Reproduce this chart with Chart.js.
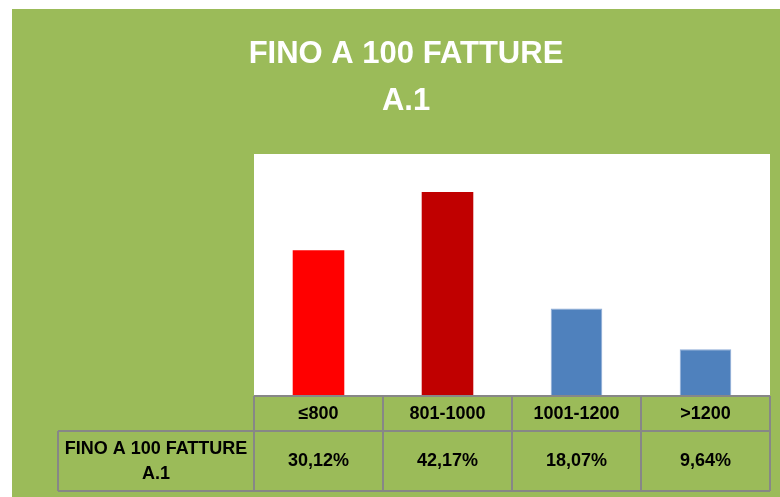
<!DOCTYPE html>
<html>
<head>
<meta charset="utf-8">
<script src="https://cdn.jsdelivr.net/npm/chart.js@4/dist/chart.umd.min.js"></script>
<style>
  html, body { margin: 0; padding: 0; background: #fff; }
  #wrap { width: 780px; height: 497px; }
</style>
</head>
<body>
<div id="wrap"><canvas id="chart"></canvas></div>
<script>
// data
const categories = ['≤800', '801-1000', '1001-1200', '>1200'];
const shares = [30.12, 42.17, 18.07, 9.64];
const seriesName = ['FINO A 100 FATTURE', 'A.1'];
const titleLines = ['FINO A 100 FATTURE', 'A.1'];
const barColors = ['#FF0000', '#C00000', '#4F81BD', '#4F81BD'];
const yMax = 50;

const GREEN = '#9BBB59';
const GRID = '#878787';
const FONT = '"Liberation Sans", Arial, sans-serif';

function fmtPct(v) {
    return v.toFixed(2).replace('.', ',') + '%';
}

// background, white plot area, title and the data table under the bars
const tablePlugin = {
    id: 'excelTable',
    beforeDraw(chart) {
        const ctx = chart.ctx;
        const a = chart.chartArea;
        ctx.save();
        ctx.fillStyle = GREEN;
        ctx.fillRect(12, 9, chart.width - 12, chart.height - 9);
        ctx.fillStyle = '#ffffff';
        ctx.fillRect(a.left, a.top, a.right - a.left, a.bottom - a.top);
        ctx.restore();
    },
    afterDraw(chart) {
        const ctx = chart.ctx;
        const a = chart.chartArea;
        const x = chart.scales.x;
        const row1Bottom = a.bottom + 35;
        const row2Bottom = a.bottom + 95;
        const labelLeft = 58;

        ctx.save();
        // title
        ctx.fillStyle = '#ffffff';
        ctx.textAlign = 'center';
        ctx.textBaseline = 'middle';
        ctx.font = 'bold 31px ' + FONT;
        ctx.fillText(titleLines[0], 406, 54);
        ctx.fillText(titleLines[1], 406, 101);

        // grid lines
        ctx.strokeStyle = GRID;
        ctx.lineWidth = 2;
        ctx.beginPath();
        ctx.moveTo(a.left, a.bottom); ctx.lineTo(a.right, a.bottom);
        ctx.moveTo(labelLeft, row1Bottom); ctx.lineTo(a.right, row1Bottom);
        ctx.moveTo(labelLeft, row2Bottom); ctx.lineTo(a.right, row2Bottom);
        ctx.moveTo(labelLeft, row1Bottom); ctx.lineTo(labelLeft, row2Bottom);
        const half = (x.getPixelForTick(1) - x.getPixelForTick(0)) / 2;
        for (let i = 0; i <= categories.length; i++) {
            const px = i < categories.length ? x.getPixelForTick(i) - half : x.getPixelForTick(i - 1) + half;
            ctx.moveTo(px, a.bottom); ctx.lineTo(px, row2Bottom);
        }
        ctx.stroke();

        // cell texts
        ctx.fillStyle = '#000000';
        ctx.font = 'bold 18px ' + FONT;
        categories.forEach((c, i) => {
            const px = x.getPixelForTick(i);
            ctx.fillText(c, px, (a.bottom + row1Bottom) / 2 + 1);
            ctx.fillText(fmtPct(shares[i]), px, (row1Bottom + row2Bottom) / 2);
        });
        const lx = (labelLeft + a.left) / 2;
        ctx.fillText(seriesName[0], lx, 449);
        ctx.fillText(seriesName[1], lx, 474);
        ctx.restore();
    }
};

new Chart(document.getElementById('chart'), {
    type: 'bar',
    data: {
        labels: categories,
        datasets: [{
            label: seriesName.join(' '),
            data: shares,
            backgroundColor: barColors,
            borderColor: ['#FF0000', '#C00000', '#8EACD6', '#8EACD6'],
            borderWidth: [0, 0, 1, 1],
            borderSkipped: 'bottom',
            barPercentage: 0.4,
            categoryPercentage: 1.0
        }]
    },
    options: {
        responsive: true,
        maintainAspectRatio: false,
        animation: false,
        layout: {
            padding: { left: 254, right: 10, top: 154, bottom: 101 }
        },
        scales: {
            x: { display: false },
            y: { display: false, min: 0, max: yMax }
        },
        plugins: {
            legend: { display: false },
            title: { display: false },
            tooltip: { enabled: false }
        }
    },
    plugins: [tablePlugin]
});
</script>
</body>
</html>
